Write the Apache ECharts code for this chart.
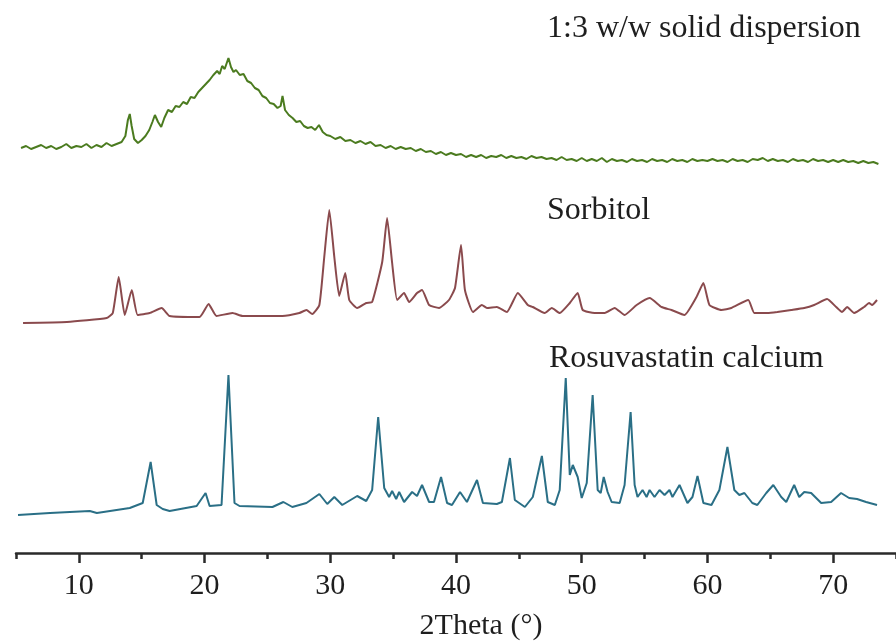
<!DOCTYPE html>
<html>
<head>
<meta charset="utf-8">
<script src="https://cdn.jsdelivr.net/npm/echarts@6/dist/echarts.min.js"></script>
<style>
html,body{margin:0;padding:0;background:#fff;}
#chart{width:896px;height:641px;}
</style>
</head>
<body>
<div id="chart"></div>
<script>
// Tick labels
const majorTicks = [10, 20, 30, 40, 50, 60, 70];
const minorTicks = [5, 15, 25, 35, 45, 55, 65, 75];
const seriesNames = ['1:3 w/w solid dispersion', 'Sorbitol', 'Rosuvastatin calcium'];

// 1:3 w/w solid dispersion (green)
const dispX = [5.4,5.8,6.2,6.6,7.0,7.4,7.8,8.2,8.6,9.0,9.4,9.8,10.2,10.6,11.0,11.4,11.8,12.2,12.6,13.0,13.4,13.7,13.9,14.05,14.2,14.4,14.7,15.0,15.3,15.6,15.85,16.05,16.3,16.55,16.8,17.1,17.4,17.7,18.0,18.3,18.6,18.9,19.2,19.5,19.8,20.1,20.4,20.7,21.0,21.2,21.4,21.6,21.9,22.1,22.3,22.5,22.8,23.1,23.4,23.7,24.0,24.3,24.6,24.9,25.2,25.5,25.8,26.05,26.2,26.4,26.7,27.0,27.3,27.6,27.9,28.2,28.5,28.8,29.1,29.4,29.7,30.0,30.4,30.8,31.2,31.6,32.0,32.4,32.8,33.2,33.6,34.0,34.4,34.8,35.2,35.6,36.0,36.4,36.8,37.2,37.6,38.0,38.4,38.8,39.2,39.6,40.0,40.4,40.8,41.2,41.6,42.0,42.4,42.8,43.2,43.6,44.0,44.4,44.8,45.2,45.6,46.0,46.4,46.8,47.2,47.6,48.0,48.4,48.8,49.2,49.6,50.0,50.4,50.8,51.2,51.6,52.0,52.4,52.8,53.2,53.6,54.0,54.4,54.8,55.2,55.6,56.0,56.4,56.8,57.2,57.6,58.0,58.4,58.8,59.2,59.6,60.0,60.4,60.8,61.2,61.6,62.0,62.4,62.8,63.2,63.6,64.0,64.4,64.8,65.2,65.6,66.0,66.4,66.8,67.2,67.6,68.0,68.4,68.8,69.2,69.6,70.0,70.4,70.8,71.2,71.6,72.0,72.4,72.8,73.2,73.6];
const dispY = [22,24,21,23,25,22,24,21,23,26,22,24,23,26,22,25,23,27,24,26,28,34,50,56,44,31,27,30,34,40,48,55,48,43,52,60,58,64,63,68,66,73,72,78,82,86,90,95,99,96,104,101,112,103,98,100,95,96,89,87,82,80,74,72,67,66,62,64,74,60,55,52,48,49,44,42,43,40,45,38,35,34,31,33,29,30,27,29,26,28,24,25,22,24,21,23,21,22,19,21,18,19,16,18,15,17,15,16,13,15,13,15,12,14,13,15,12,14,12,13,11,14,12,13,11,12,10,13,10,11,9,12,9,11,9,12,8,11,9,10,8,11,9,10,8,11,9,10,8,11,9,10,8,11,9,10,9,11,9,10,8,11,9,10,8,11,10,12,9,11,9,10,8,11,9,10,8,11,9,10,8,10,8,10,8,9,7,9,7,8,6];

// Sorbitol (red-brown)
const sorbX = [5.56,9.05,12.22,12.70,13.17,13.65,14.21,14.68,15.63,16.59,17.22,19.60,20.32,20.95,22.22,23.02,26.19,27.54,28.10,28.57,29.13,29.52,29.92,30.32,30.71,31.19,31.51,32.14,32.86,33.33,34.13,34.52,34.92,35.32,35.87,36.27,36.90,37.30,37.86,38.65,39.44,39.92,40.40,40.71,41.35,42.06,42.46,43.25,44.05,44.92,45.71,46.11,47.06,47.62,48.25,49.05,49.68,50.08,51.03,51.83,52.62,53.41,54.37,55.40,56.35,57.14,58.17,59.13,59.68,60.16,61.11,61.90,63.25,63.73,64.76,65.56,66.67,67.70,68.49,69.52,70.24,70.71,71.11,71.67,72.46,72.86,73.10,73.49];
const sorbY = [7,8,12,17,53,15,40,15,17,22,14,13,26,14,17,14,14,17,20,16,25,73,120,73,34,57,30,22,27,28,68,112,67,30,37,28,37,40,25,22,30,42,85,40,18,25,22,23,18,37,25,23,17,22,17,27,37,20,17,17,22,15,25,32,23,20,15,33,47,25,20,22,30,17,17,18,20,22,25,31,23,18,23,17,23,27,25,30];

// Rosuvastatin calcium (teal-blue)
const rosuX = [5.16,7.70,10.87,11.43,14.05,15.08,15.71,16.19,16.67,17.22,19.37,20.08,20.40,21.35,21.90,22.38,22.78,25.40,26.27,26.98,28.10,29.13,29.76,30.32,30.95,32.14,32.86,33.33,33.81,34.29,34.68,34.92,35.24,35.48,35.87,36.51,36.90,37.30,37.86,38.25,38.81,39.29,39.68,40.32,40.87,41.67,42.14,43.25,43.65,44.29,44.68,45.48,46.11,46.83,47.30,47.86,48.25,48.73,49.05,49.29,49.68,50.00,50.40,50.87,51.27,51.51,51.75,52.06,52.38,53.02,53.41,53.89,54.21,54.44,54.84,55.16,55.40,55.79,56.19,56.59,56.98,57.22,57.78,58.41,58.81,59.21,59.68,60.32,60.95,61.59,62.14,62.54,62.94,63.57,63.97,64.68,65.24,65.87,66.27,66.90,67.30,67.70,68.25,69.05,69.84,70.63,71.27,71.90,72.62,73.49];
const rosuY = [5,7,9,7,12,17,58,15,11,9,14,27,14,15,145,17,14,13,18,13,17,26,16,23,15,24,19,30,103,32,23,29,21,28,18,28,24,35,18,18,43,17,15,28,18,40,17,16,18,62,20,13,23,64,18,15,30,142,45,55,43,22,37,125,30,27,43,28,18,17,35,108,35,23,30,23,30,23,30,25,30,23,35,17,23,44,17,15,30,73,30,25,27,17,15,27,35,23,18,35,23,28,27,17,18,27,22,21,18,15];

const pairs = (xs, ys) => xs.map((x, i) => [x, ys[i]]);

const FONT = '"Liberation Serif", "Times New Roman", serif';
const AXIS_COLOR = '#2a2a2a';
const TEXT_COLOR = '#1e1e1e';

const chart = echarts.init(document.getElementById('chart'), null, {renderer: 'canvas'});

const hiddenX = (gi) => ({gridIndex: gi, type: 'value', min: 5, max: 75, show: false});

chart.setOption({
  animation: false,
  backgroundColor: '#ffffff',
  grid: [
    {left: 16, width: 882, top: 40, height: 140},
    {left: 16, width: 882, top: 200, height: 140},
    {left: 16, width: 882, top: 360, height: 193}
  ],
  xAxis: [
    hiddenX(0),
    hiddenX(1),
    {
      gridIndex: 2, type: 'value', min: 5, max: 75, position: 'bottom',
      axisLine: {show: true, onZero: false, lineStyle: {color: AXIS_COLOR, width: 2.5}},
      axisTick: {show: true, customValues: majorTicks, length: 10, lineStyle: {color: AXIS_COLOR, width: 2.5}},
      axisLabel: {show: true, customValues: majorTicks, margin: 18, fontFamily: FONT, fontSize: 30, color: TEXT_COLOR},
      splitLine: {show: false}
    },
    {
      gridIndex: 2, type: 'value', min: 5, max: 75, position: 'bottom', offset: 0,
      axisLine: {show: false, onZero: false},
      axisTick: {show: true, customValues: minorTicks, length: 6, lineStyle: {color: AXIS_COLOR, width: 2.5}},
      axisLabel: {show: false},
      splitLine: {show: false}
    }
  ],
  yAxis: [
    {gridIndex: 0, type: 'value', min: -10, max: 130, show: false},
    {gridIndex: 1, type: 'value', min: -10, max: 130, show: false},
    {gridIndex: 2, type: 'value', min: -33, max: 160, show: false}
  ],
  series: [
    {
      name: seriesNames[0], type: 'line', xAxisIndex: 0, yAxisIndex: 0,
      data: pairs(dispX, dispY), showSymbol: false, symbol: 'none',
      lineStyle: {color: '#4b7b1f', width: 2}
    },
    {
      name: seriesNames[1], type: 'line', xAxisIndex: 1, yAxisIndex: 1,
      data: pairs(sorbX, sorbY), showSymbol: false, symbol: 'none', smooth: 0.15,
      lineStyle: {color: '#8a4a4d', width: 2}
    },
    {
      name: seriesNames[2], type: 'line', xAxisIndex: 2, yAxisIndex: 2,
      data: pairs(rosuX, rosuY), showSymbol: false, symbol: 'none',
      lineStyle: {color: '#2a6f86', width: 2}
    }
  ],
  graphic: [
    {type: 'text', x: 547, y: 29, style: {text: seriesNames[0], font: '32px ' + FONT, fill: TEXT_COLOR, align: 'left', verticalAlign: 'middle'}},
    {type: 'text', x: 547, y: 211, style: {text: seriesNames[1], font: '32px ' + FONT, fill: TEXT_COLOR, align: 'left', verticalAlign: 'middle'}},
    {type: 'text', x: 549, y: 359, style: {text: seriesNames[2], font: '32px ' + FONT, fill: TEXT_COLOR, align: 'left', verticalAlign: 'middle'}},
    {type: 'text', x: 481, y: 626, style: {text: '2Theta (°)', font: '30px ' + FONT, fill: TEXT_COLOR, align: 'center', verticalAlign: 'middle'}}
  ]
});
</script>
</body>
</html>
